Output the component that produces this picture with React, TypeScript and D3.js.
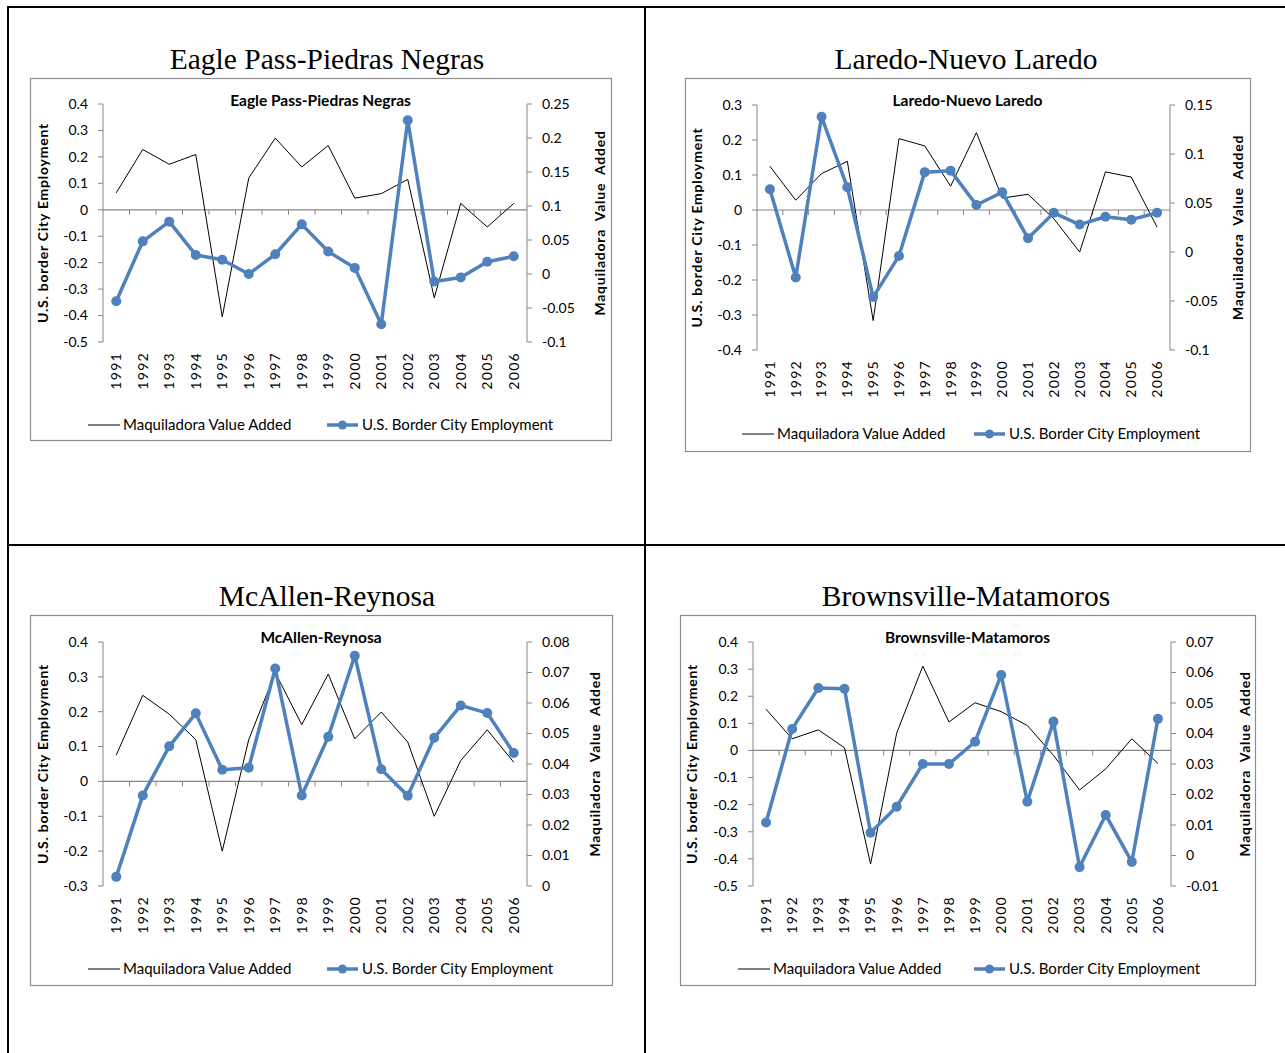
import React from 'react';
import * as d3 from 'd3';

const years = ['1991','1992','1993','1994','1995','1996','1997','1998','1999','2000','2001','2002','2003','2004','2005','2006'];

// Eagle Pass-Piedras Negras
const eagleMaquiladora = [0.064, 0.228, 0.172, 0.209, -0.405, 0.12, 0.271, 0.162, 0.243, 0.044, 0.061, 0.115, -0.333, 0.024, -0.065, 0.024];
const eagleEmployment = [-0.040, 0.048, 0.077, 0.028, 0.021, 0.0, 0.029, 0.073, 0.033, 0.009, -0.074, 0.226, -0.011, -0.005, 0.018, 0.026];
const eagleLeftTicks = [-0.5, -0.4, -0.3, -0.2, -0.1, 0, 0.1, 0.2, 0.3, 0.4];
const eagleRightTicks = [-0.1, -0.05, 0, 0.05, 0.1, 0.15, 0.2, 0.25];

// Laredo-Nuevo Laredo
const laredoMaquiladora = [0.125, 0.028, 0.104, 0.139, -0.316, 0.204, 0.183, 0.068, 0.221, 0.034, 0.045, -0.025, -0.12, 0.109, 0.094, -0.049];
const laredoEmployment = [0.064, -0.026, 0.138, 0.066, -0.046, -0.004, 0.0815, 0.083, 0.048, 0.061, 0.014, 0.040, 0.028, 0.036, 0.033, 0.040];
const laredoLeftTicks = [-0.4, -0.3, -0.2, -0.1, 0, 0.1, 0.2, 0.3];
const laredoRightTicks = [-0.1, -0.05, 0, 0.05, 0.1, 0.15];

// McAllen-Reynosa
const mcallenMaquiladora = [0.076, 0.247, 0.193, 0.12, -0.2, 0.12, 0.312, 0.163, 0.308, 0.122, 0.199, 0.113, -0.1, 0.06, 0.148, 0.055];
const mcallenEmployment = [0.003, 0.0297, 0.0458, 0.0566, 0.0381, 0.0388, 0.0713, 0.0297, 0.0489, 0.0755, 0.0383, 0.0296, 0.0486, 0.0592, 0.0567, 0.0436];
const mcallenLeftTicks = [-0.3, -0.2, -0.1, 0, 0.1, 0.2, 0.3, 0.4];
const mcallenRightTicks = [0, 0.01, 0.02, 0.03, 0.04, 0.05, 0.06, 0.07, 0.08];

// Brownsville-Matamoros
const brownsvilleMaquiladora = [0.152, 0.043, 0.076, 0.01, -0.419, 0.064, 0.311, 0.105, 0.176, 0.143, 0.092, -0.018, -0.146, -0.068, 0.043, -0.048];
const brownsvilleEmployment = [0.0108, 0.0415, 0.0549, 0.0547, 0.0075, 0.016, 0.030, 0.030, 0.0373, 0.0592, 0.0176, 0.0439, -0.0038, 0.0133, -0.0021, 0.0448];
const brownsvilleLeftTicks = [-0.5, -0.4, -0.3, -0.2, -0.1, 0, 0.1, 0.2, 0.3, 0.4];
const brownsvilleRightTicks = [-0.01, 0, 0.01, 0.02, 0.03, 0.04, 0.05, 0.06, 0.07];

const seriesNames = ['Maquiladora Value Added', 'U.S. Border City Employment'];
const leftAxisTitle = 'U.S. border City Employment';
const rightAxisTitle = 'Maquiladora  Value  Added';

const BLUE = '#4F81BD';
const AXIS = '#868686';
const UI = 'Lato, "Open Sans", sans-serif';

type Layout = {
  title: string;
  titleX: number;
  titleY: number;
  box: [number, number, number, number];
  plot: [number, number, number, number];
  leftTicks: number[];
  rightTicks: number[];
  black: number[];
  blue: number[];
  legendY: number;
  legendBlackX: number;
  legendBlueX: number;
  leftTitleX: number;
  rightTitleX: number;
};

const fmt = (v: number) => String(Number(v.toFixed(4)));

function Panel({ L }: { L: Layout }) {
  const [px0, py0, px1, py1] = L.plot;
  const [bx0, by0, bx1, by1] = L.box;
  const x = d3.scaleBand<string>().domain(years).range([px0, px1]).padding(0);
  const cx = (y: string) => (x(y) as number) + x.bandwidth() / 2;
  const yL = d3.scaleLinear().domain([L.leftTicks[0], L.leftTicks[L.leftTicks.length - 1]]).range([py1, py0]);
  const yR = d3.scaleLinear().domain([L.rightTicks[0], L.rightTicks[L.rightTicks.length - 1]]).range([py1, py0]);
  const blackLine = d3.line<number>().x((_, i) => cx(years[i])).y((d) => yL(d));
  const blueLine = d3.line<number>().x((_, i) => cx(years[i])).y((d) => yR(d));
  const zeroY = yL(0);
  const midY = (py0 + py1) / 2;
  const boxCx = (bx0 + bx1) / 2;
  return (
    <g>
      <text x={L.titleX} y={L.titleY} textAnchor="middle" fontFamily='"Liberation Serif", "Times New Roman", serif' fontSize={29.5} fill="#000">{L.title}</text>
      <rect x={bx0 + 0.5} y={by0 + 0.5} width={bx1 - bx0} height={by1 - by0} fill="#fff" stroke="#8c8c8c" strokeWidth={1.2} />
      <text x={boxCx} y={by0 + 28} textAnchor="middle" fontFamily={UI} fontWeight={700} fontSize={15.5} fill="#000">{L.title}</text>
      {/* left axis */}
      <line x1={px0} x2={px0} y1={py0} y2={py1} stroke={AXIS} strokeWidth={1} />
      {L.leftTicks.map((t) => (
        <g key={'l' + t}>
          <line x1={px0 - 5} x2={px0} y1={yL(t)} y2={yL(t)} stroke={AXIS} />
          <text x={px0 - 15} y={yL(t)} dy="0.35em" textAnchor="end" fontFamily={UI} fontSize={14} fill="#000">{fmt(t)}</text>
        </g>
      ))}
      {/* right axis */}
      <line x1={px1} x2={px1} y1={py0} y2={py1} stroke={AXIS} strokeWidth={1} />
      {L.rightTicks.map((t) => (
        <g key={'r' + t}>
          <line x1={px1} x2={px1 + 5} y1={yR(t)} y2={yR(t)} stroke={AXIS} />
          <text x={px1 + 15} y={yR(t)} dy="0.35em" textAnchor="start" fontFamily={UI} fontSize={14} fill="#000">{fmt(t)}</text>
        </g>
      ))}
      {/* zero category axis */}
      <line x1={px0} x2={px1} y1={zeroY} y2={zeroY} stroke={AXIS} strokeWidth={1.2} />
      {years.map((yr, i) => (i > 0 ? <line key={'c' + yr} x1={x(yr) as number} x2={x(yr) as number} y1={zeroY} y2={zeroY + 5} stroke={AXIS} /> : null))}
      {years.map((yr) => (
        <text key={'y' + yr} transform={`translate(${cx(yr)},${py1 + 10}) rotate(-90)`} textAnchor="end" dy="0.35em" fontFamily={UI} fontSize={14} letterSpacing={1.3} fill="#000">{yr}</text>
      ))}
      {/* axis titles */}
      <text transform={`translate(${L.leftTitleX},${midY}) rotate(-90)`} textAnchor="middle" dy="0.35em" fontFamily={UI} fontWeight={700} fontSize={14} letterSpacing={0.75} fill="#000">{leftAxisTitle}</text>
      <text transform={`translate(${L.rightTitleX},${midY}) rotate(-90)`} textAnchor="middle" dy="0.35em" fontFamily={UI} fontWeight={700} fontSize={14} letterSpacing={0.75} fill="#000" style={{ whiteSpace: 'pre' }}>{rightAxisTitle}</text>
      {/* series */}
      <path d={blackLine(L.black) || ''} fill="none" stroke="#000" strokeWidth={1} />
      <path d={blueLine(L.blue) || ''} fill="none" stroke={BLUE} strokeWidth={3.5} strokeLinejoin="round" />
      {L.blue.map((v, i) => (
        <circle key={'m' + i} cx={cx(years[i])} cy={yR(v)} r={5} fill={BLUE} />
      ))}
      {/* legend */}
      <line x1={L.legendBlackX} x2={L.legendBlackX + 32} y1={L.legendY} y2={L.legendY} stroke="#000" strokeWidth={1} />
      <text x={L.legendBlackX + 35} y={L.legendY} dy="0.35em" fontFamily={UI} fontSize={15} fill="#000">{seriesNames[0]}</text>
      <line x1={L.legendBlueX} x2={L.legendBlueX + 31} y1={L.legendY} y2={L.legendY} stroke={BLUE} strokeWidth={3.5} />
      <circle cx={L.legendBlueX + 15.5} cy={L.legendY} r={4.5} fill={BLUE} />
      <text x={L.legendBlueX + 35} y={L.legendY} dy="0.35em" fontFamily={UI} fontSize={15} fill="#000">{seriesNames[1]}</text>
    </g>
  );
}

const layouts: Layout[] = [
  {
    title: 'Eagle Pass-Piedras Negras', titleX: 327, titleY: 69,
    box: [30, 78, 611, 440], plot: [103, 104, 527, 342],
    leftTicks: eagleLeftTicks, rightTicks: eagleRightTicks,
    black: eagleMaquiladora, blue: eagleEmployment,
    legendY: 425, legendBlackX: 88, legendBlueX: 327, leftTitleX: 43, rightTitleX: 600,
  },
  {
    title: 'Laredo-Nuevo Laredo', titleX: 966, titleY: 69,
    box: [685, 78, 1250, 451], plot: [757, 105, 1170, 350],
    leftTicks: laredoLeftTicks, rightTicks: laredoRightTicks,
    black: laredoMaquiladora, blue: laredoEmployment,
    legendY: 434, legendBlackX: 742, legendBlueX: 974, leftTitleX: 697, rightTitleX: 1238,
  },
  {
    title: 'McAllen-Reynosa', titleX: 327, titleY: 606,
    box: [30, 615, 612, 985], plot: [103, 642, 527, 886],
    leftTicks: mcallenLeftTicks, rightTicks: mcallenRightTicks,
    black: mcallenMaquiladora, blue: mcallenEmployment,
    legendY: 969, legendBlackX: 88, legendBlueX: 327, leftTitleX: 43, rightTitleX: 595,
  },
  {
    title: 'Brownsville-Matamoros', titleX: 966, titleY: 606,
    box: [680, 615, 1255, 985], plot: [753, 642, 1171, 886],
    leftTicks: brownsvilleLeftTicks, rightTicks: brownsvilleRightTicks,
    black: brownsvilleMaquiladora, blue: brownsvilleEmployment,
    legendY: 969, legendBlackX: 738, legendBlueX: 974, leftTitleX: 692, rightTitleX: 1245,
  },
];

export default function App() {
  return (
    <svg width={1285} height={1053} style={{ position: 'absolute', left: 0, top: 0, background: '#fff' }}>
      <rect x={0} y={0} width={1285} height={1053} fill="#fff" />
      {/* page grid lines */}
      <line x1={8} x2={1285} y1={7} y2={7} stroke="#000" strokeWidth={2} />
      <line x1={8} x2={8} y1={6} y2={1053} stroke="#000" strokeWidth={2} />
      <line x1={645} x2={645} y1={6} y2={1053} stroke="#000" strokeWidth={2} />
      <line x1={8} x2={1285} y1={545} y2={545} stroke="#000" strokeWidth={2} />
      {layouts.map((L) => (
        <Panel key={L.title} L={L} />
      ))}
    </svg>
  );
}
